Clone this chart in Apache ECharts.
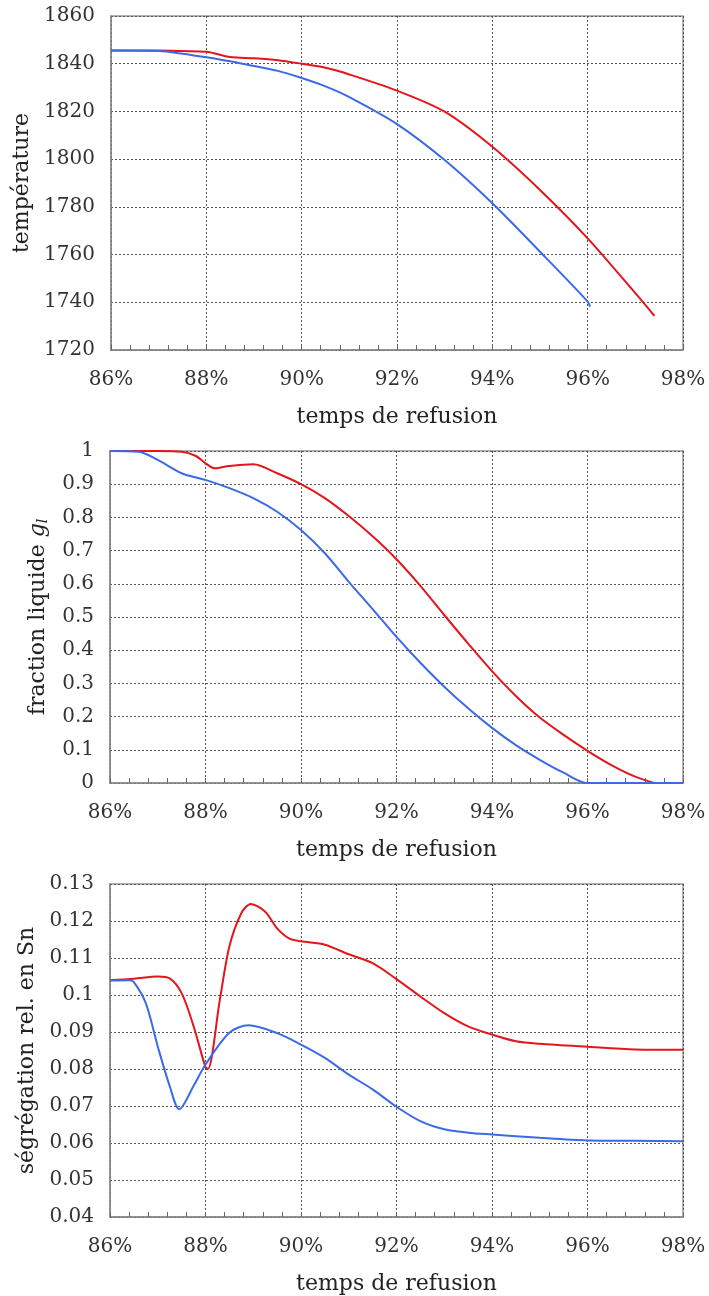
<!DOCTYPE html>
<html>
<head>
<meta charset="utf-8">
<script src="https://cdn.jsdelivr.net/npm/echarts@6/dist/echarts.min.js"></script>
<style>
html, body { margin: 0; padding: 0; background: #fff; }
#main { width: 709px; height: 1296px; }
</style>
</head>
<body>
<div id="main"></div>
<script>
// temps de refusion (%) et valeurs
const tempXBlue = [86, 87, 87.5, 88, 88.5, 89, 89.5, 90, 90.5, 91, 92, 93, 94, 95, 96, 96.05]
const tempBlue = [1845.5, 1845.3, 1844.2, 1842.7, 1841, 1839, 1837, 1834, 1830.5, 1826, 1814.7, 1799.6, 1781.5, 1761.2, 1740.3, 1738.2]
const tempXRed = [86, 87, 87.5, 88, 88.5, 89, 89.5, 90, 90.5, 91, 92, 93, 94, 95, 96, 97, 97.4]
const tempRed = [1845.5, 1845.5, 1845.3, 1845, 1842.8, 1842.3, 1841.5, 1840, 1838.3, 1835.5, 1828.7, 1819.9, 1805.2, 1787.1, 1766.8, 1743.8, 1734.3]

const fracXBlue = [86, 86.6, 87, 87.5, 88, 88.5, 89, 89.5, 90, 90.5, 91, 91.5, 92, 92.5, 93, 93.5, 94, 94.5, 95, 95.5, 96, 97, 98]
const fracBlue = [1, 0.998, 0.973, 0.933, 0.913, 0.888, 0.858, 0.817, 0.762, 0.692, 0.606, 0.524, 0.44, 0.362, 0.29, 0.225, 0.166, 0.114, 0.07, 0.031, 0, 0, 0]
const fracXRed = [86, 87, 87.5, 87.8, 88, 88.2, 88.5, 89, 89.5, 90, 90.5, 91, 91.5, 92, 92.5, 93, 93.5, 94, 94.5, 95, 95.5, 96, 96.5, 97, 97.4]
const fracRed = [1, 1, 0.998, 0.985, 0.963, 0.948, 0.955, 0.96, 0.933, 0.9, 0.858, 0.804, 0.743, 0.674, 0.594, 0.506, 0.42, 0.337, 0.262, 0.197, 0.145, 0.097, 0.054, 0.019, 0]

const segXBlue = [86, 86.4, 86.5, 86.75, 87, 87.25, 87.45, 87.75, 88, 88.5, 88.9, 89.5, 90, 90.5, 91, 91.5, 92, 92.5, 93, 93.5, 94, 95, 96, 97, 98]
const segBlue = [0.1039, 0.104, 0.1035, 0.0978, 0.0861, 0.0754, 0.0691, 0.0754, 0.0812, 0.0898, 0.0918, 0.0897, 0.0866, 0.083, 0.0785, 0.0745, 0.0698, 0.0659, 0.0637, 0.0628, 0.0623, 0.0614, 0.0607, 0.0606, 0.0605]
const segXRed = [86, 86.5, 87, 87.25, 87.5, 87.75, 88, 88.05, 88.3, 88.5, 88.75, 88.95, 89.25, 89.5, 89.75, 90, 90.5, 91, 91.5, 92, 92.5, 93, 93.5, 94, 94.5, 95, 96, 97, 98]
const segRed = [0.104, 0.1044, 0.105, 0.1045, 0.1005, 0.0916, 0.0805, 0.08, 0.0987, 0.1131, 0.1221, 0.1246, 0.1225, 0.118, 0.1153, 0.1145, 0.1136, 0.111, 0.1086, 0.1043, 0.0996, 0.0951, 0.0915, 0.0893, 0.0875, 0.0868, 0.086, 0.0853, 0.0852]

const xTitle = 'temps de refusion'
const yTitles = ['température', 'fraction liquide {i|g}{s|l}', 'ségrégation rel. en Sn']

const FONT = 'DejaVu Serif'
const RED = '#e3161b'
const BLUE = '#3b6ae6'

const zip = (xs, ys) => xs.map((x, i) => [x, ys[i]])

const grids = [
  { left: 111, top: 16, width: 572, height: 334 },
  { left: 110, top: 451, width: 573, height: 332 },
  { left: 110, top: 884, width: 573, height: 334 }
]

const makeX = (idx) => ({
  type: 'value',
  gridIndex: idx,
  min: 86,
  max: 98,
  interval: 2,
  name: xTitle,
  nameLocation: 'middle',
  nameGap: 56,
  nameTextStyle: { fontFamily: FONT, fontSize: 22, color: '#222' },
  axisLine: { lineStyle: { color: '#888', width: 1.5 } },
  axisTick: { show: true, inside: true, length: 5, lineStyle: { color: '#666' } },
  minorTick: { show: true, splitNumber: 5, length: 5, lineStyle: { color: '#666' } },
  axisLabel: { fontFamily: FONT, fontSize: 20, color: '#333', margin: 20, formatter: '{value}%' },
  splitLine: { show: true, lineStyle: { color: '#555', type: [2, 2], width: 1 } }
})

const makeY = (idx, min, max, interval, gap, fmt) => ({
  type: 'value',
  gridIndex: idx,
  min: min,
  max: max,
  interval: interval,
  name: yTitles[idx],
  nameLocation: 'middle',
  nameRotate: 90,
  nameGap: gap,
  nameTextStyle: {
    fontFamily: FONT, fontSize: 22, color: '#222',
    rich: {
      i: { fontFamily: FONT, fontSize: 22, fontStyle: 'italic', color: '#222' },
      s: { fontFamily: FONT, fontSize: 14, fontStyle: 'italic', color: '#222', verticalAlign: 'bottom', padding: [10, 0, 0, 0] }
    }
  },
  axisLine: { show: true, lineStyle: { color: '#888', width: 1.5 } },
  axisTick: { show: false },
  axisLabel: { fontFamily: FONT, fontSize: 20, color: '#333', margin: 16, formatter: fmt },
  splitLine: { show: true, lineStyle: { color: '#555', type: [2, 2], width: 1 } }
})

const line = (idx, data, color) => ({
  type: 'line',
  xAxisIndex: idx,
  yAxisIndex: idx,
  data: data,
  smooth: 0.3,
  showSymbol: false,
  lineStyle: { color: color, width: 2 },
  itemStyle: { color: color },
  z: color === BLUE ? 3 : 2
})

const myChart = echarts.init(document.getElementById('main'))
const option = {
  backgroundColor: '#fff',
  animation: false,
  grid: grids.map(g => Object.assign({ show: true, borderColor: '#999', borderWidth: 1.5, backgroundColor: 'transparent' }, g)),
  xAxis: [makeX(0), makeX(1), makeX(2)],
  yAxis: [
    makeY(0, 1720, 1860, 20, 71, v => v),
    makeY(1, 0, 1, 0.1, 60, v => +v.toFixed(1)),
    makeY(2, 0.04, 0.13, 0.01, 71, v => +v.toFixed(2))
  ],
  series: [
    line(0, zip(tempXRed, tempRed), RED),
    line(0, zip(tempXBlue, tempBlue), BLUE),
    line(1, zip(fracXRed, fracRed), RED),
    line(1, zip(fracXBlue, fracBlue), BLUE),
    line(2, zip(segXRed, segRed), RED),
    line(2, zip(segXBlue, segBlue), BLUE)
  ]
}
myChart.setOption(option)
</script>
</body>
</html>
